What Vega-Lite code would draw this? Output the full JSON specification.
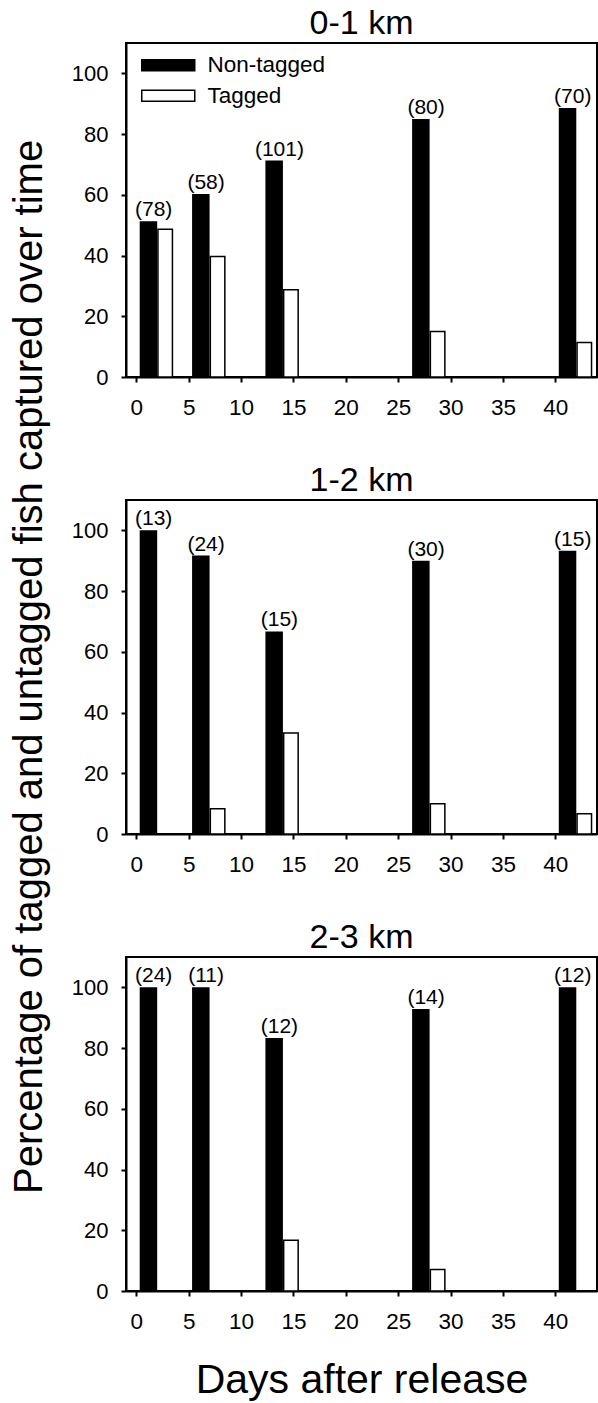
{
  "$schema": "https://vega.github.io/schema/vega-lite/v6.json",
  "padding": {"left": 10, "top": 6, "right": 0, "bottom": 0},
  "background": "white",
  "spacing": 43,
  "title": {"text": "Percentage of tagged and untagged fish captured over time", "orient": "left", "anchor": "middle", "fontSize": 40, "offset": -12, "baseline": "alphabetic", "dx": 37},
  "config": {
    "font": "Liberation Sans",
    "view": {"stroke": "black", "strokeWidth": 2},
    "axis": {"domainColor": "black", "domainWidth": 2, "tickColor": "black", "tickWidth": 2, "tickSize": 5, "grid": false, "labelFont": "Liberation Sans", "labelFontSize": 22, "labelColor": "black", "titleColor": "black", "titleFont": "Liberation Sans", "titleFontWeight": "normal", "labelOverlap": false, "labelFlush": false},
    "title": {"font": "Liberation Sans", "fontSize": 34, "fontWeight": "normal", "color": "black"}
  },
  "data": {"values": [
    {"panel": "0-1 km", "day": 2, "type": "Non-tagged", "pct": 51.3, "n": "(78)"},
    {"panel": "0-1 km", "day": 2, "type": "Tagged", "pct": 48.7, "n": ""},
    {"panel": "0-1 km", "day": 7, "type": "Non-tagged", "pct": 60.3, "n": "(58)"},
    {"panel": "0-1 km", "day": 7, "type": "Tagged", "pct": 39.7, "n": ""},
    {"panel": "0-1 km", "day": 14, "type": "Non-tagged", "pct": 71.3, "n": "(101)"},
    {"panel": "0-1 km", "day": 14, "type": "Tagged", "pct": 28.7, "n": ""},
    {"panel": "0-1 km", "day": 28, "type": "Non-tagged", "pct": 85.0, "n": "(80)"},
    {"panel": "0-1 km", "day": 28, "type": "Tagged", "pct": 15.0, "n": ""},
    {"panel": "0-1 km", "day": 42, "type": "Non-tagged", "pct": 88.6, "n": "(70)"},
    {"panel": "0-1 km", "day": 42, "type": "Tagged", "pct": 11.4, "n": ""},
    {"panel": "1-2 km", "day": 2, "type": "Non-tagged", "pct": 100, "n": "(13)"},
    {"panel": "1-2 km", "day": 7, "type": "Non-tagged", "pct": 91.7, "n": "(24)"},
    {"panel": "1-2 km", "day": 7, "type": "Tagged", "pct": 8.3, "n": ""},
    {"panel": "1-2 km", "day": 14, "type": "Non-tagged", "pct": 66.7, "n": "(15)"},
    {"panel": "1-2 km", "day": 14, "type": "Tagged", "pct": 33.3, "n": ""},
    {"panel": "1-2 km", "day": 28, "type": "Non-tagged", "pct": 90.0, "n": "(30)"},
    {"panel": "1-2 km", "day": 28, "type": "Tagged", "pct": 10.0, "n": ""},
    {"panel": "1-2 km", "day": 42, "type": "Non-tagged", "pct": 93.3, "n": "(15)"},
    {"panel": "1-2 km", "day": 42, "type": "Tagged", "pct": 6.7, "n": ""},
    {"panel": "2-3 km", "day": 2, "type": "Non-tagged", "pct": 100, "n": "(24)"},
    {"panel": "2-3 km", "day": 7, "type": "Non-tagged", "pct": 100, "n": "(11)"},
    {"panel": "2-3 km", "day": 14, "type": "Non-tagged", "pct": 83.3, "n": "(12)"},
    {"panel": "2-3 km", "day": 14, "type": "Tagged", "pct": 16.7, "n": ""},
    {"panel": "2-3 km", "day": 28, "type": "Non-tagged", "pct": 92.9, "n": "(14)"},
    {"panel": "2-3 km", "day": 28, "type": "Tagged", "pct": 7.1, "n": ""},
    {"panel": "2-3 km", "day": 42, "type": "Non-tagged", "pct": 100, "n": "(12)"}
  ]},
  "vconcat": [
    {
      "width": 471, "height": 334,
      "title": {"text": "0-1 km", "offset": -25, "baseline": "alphabetic"},
      "transform": [{"filter": "datum.panel === '0-1 km'"}],
      "layer": [
        {
          "transform": [{"filter": "datum.type === 'Non-tagged'"}],
          "mark": {"type": "bar", "orient": "vertical", "width": 17.5, "xOffset": -8.75},
          "encoding": {
            "x": {"field": "day", "type": "quantitative", "scale": {"domain": [-0.5, 43.5], "nice": false, "zero": false}, "axis": {"values": [0, 5, 10, 15, 20, 25, 30, 35, 40], "title": null, "labelPadding": 14, "labelFontSize": 22.5}},
            "y": {"field": "pct", "type": "quantitative", "stack": null, "scale": {"domain": [0, 110], "nice": false}, "axis": {"values": [0, 20, 40, 60, 80, 100], "title": null, "labelPadding": 13}},
            "fill": {"field": "type", "type": "nominal", "scale": {"domain": ["Non-tagged", "Tagged"], "range": ["black", "white"]}, "legend": {"title": null, "orient": "none", "legendX": 31, "legendY": 11, "symbolType": "M-2.65,-0.55H2.65V0.55H-2.65Z", "symbolSize": 400, "symbolStrokeColor": "black", "symbolStrokeWidth": 1.5, "labelFontSize": 22.5, "labelOffset": 28, "rowPadding": 7.5, "padding": 0, "labelFont": "Liberation Sans", "labelColor": "black"}}
          }
        },
        {
          "transform": [{"filter": "datum.type === 'Tagged'"}],
          "mark": {"type": "bar", "orient": "vertical", "width": 14.5, "xOffset": 8, "stroke": "black", "strokeWidth": 1.5},
          "encoding": {
            "x": {"field": "day", "type": "quantitative"},
            "y": {"field": "pct", "type": "quantitative", "stack": null},
            "fill": {"field": "type", "type": "nominal"}
          }
        },
        {
          "transform": [{"filter": "datum.type === 'Non-tagged'"}],
          "mark": {"type": "text", "dx": -3.5, "dy": -5, "baseline": "alphabetic", "align": "center", "fontSize": 21, "color": "black"},
          "encoding": {
            "x": {"field": "day", "type": "quantitative"},
            "y": {"field": "pct", "type": "quantitative"},
            "text": {"field": "n"}
          }
        }
      ]
    },
    {
      "width": 471, "height": 334,
      "title": {"text": "1-2 km", "offset": -25, "baseline": "alphabetic"},
      "transform": [{"filter": "datum.panel === '1-2 km'"}],
      "layer": [
        {
          "transform": [{"filter": "datum.type === 'Non-tagged'"}],
          "mark": {"type": "bar", "orient": "vertical", "width": 17.5, "xOffset": -8.75, "fill": "black"},
          "encoding": {
            "x": {"field": "day", "type": "quantitative", "scale": {"domain": [-0.5, 43.5], "nice": false, "zero": false}, "axis": {"values": [0, 5, 10, 15, 20, 25, 30, 35, 40], "title": null, "labelPadding": 14, "labelFontSize": 22.5}},
            "y": {"field": "pct", "type": "quantitative", "stack": null, "scale": {"domain": [0, 110], "nice": false}, "axis": {"values": [0, 20, 40, 60, 80, 100], "title": null, "labelPadding": 13}}
          }
        },
        {
          "transform": [{"filter": "datum.type === 'Tagged'"}],
          "mark": {"type": "bar", "orient": "vertical", "width": 14.5, "xOffset": 8, "fill": "white", "stroke": "black", "strokeWidth": 1.5},
          "encoding": {
            "x": {"field": "day", "type": "quantitative"},
            "y": {"field": "pct", "type": "quantitative", "stack": null}
          }
        },
        {
          "transform": [{"filter": "datum.type === 'Non-tagged'"}],
          "mark": {"type": "text", "dx": -3.5, "dy": -5, "baseline": "alphabetic", "align": "center", "fontSize": 21, "color": "black"},
          "encoding": {
            "x": {"field": "day", "type": "quantitative"},
            "y": {"field": "pct", "type": "quantitative"},
            "text": {"field": "n"}
          }
        }
      ]
    },
    {
      "width": 471, "height": 334,
      "title": {"text": "2-3 km", "offset": -25, "baseline": "alphabetic"},
      "transform": [{"filter": "datum.panel === '2-3 km'"}],
      "layer": [
        {
          "transform": [{"filter": "datum.type === 'Non-tagged'"}],
          "mark": {"type": "bar", "orient": "vertical", "width": 17.5, "xOffset": -8.75, "fill": "black"},
          "encoding": {
            "x": {"field": "day", "type": "quantitative", "scale": {"domain": [-0.5, 43.5], "nice": false, "zero": false}, "axis": {"values": [0, 5, 10, 15, 20, 25, 30, 35, 40], "labelPadding": 14, "labelFontSize": 22.5, "title": "Days after release", "titleFontSize": 41, "titleY": 101.7, "titleBaseline": "alphabetic"}},
            "y": {"field": "pct", "type": "quantitative", "stack": null, "scale": {"domain": [0, 110], "nice": false}, "axis": {"values": [0, 20, 40, 60, 80, 100], "title": null, "labelPadding": 13}}
          }
        },
        {
          "transform": [{"filter": "datum.type === 'Tagged'"}],
          "mark": {"type": "bar", "orient": "vertical", "width": 14.5, "xOffset": 8, "fill": "white", "stroke": "black", "strokeWidth": 1.5},
          "encoding": {
            "x": {"field": "day", "type": "quantitative"},
            "y": {"field": "pct", "type": "quantitative", "stack": null}
          }
        },
        {
          "transform": [{"filter": "datum.type === 'Non-tagged'"}],
          "mark": {"type": "text", "dx": -3.5, "dy": -5, "baseline": "alphabetic", "align": "center", "fontSize": 21, "color": "black"},
          "encoding": {
            "x": {"field": "day", "type": "quantitative"},
            "y": {"field": "pct", "type": "quantitative"},
            "text": {"field": "n"}
          }
        }
      ]
    }
  ]
}
